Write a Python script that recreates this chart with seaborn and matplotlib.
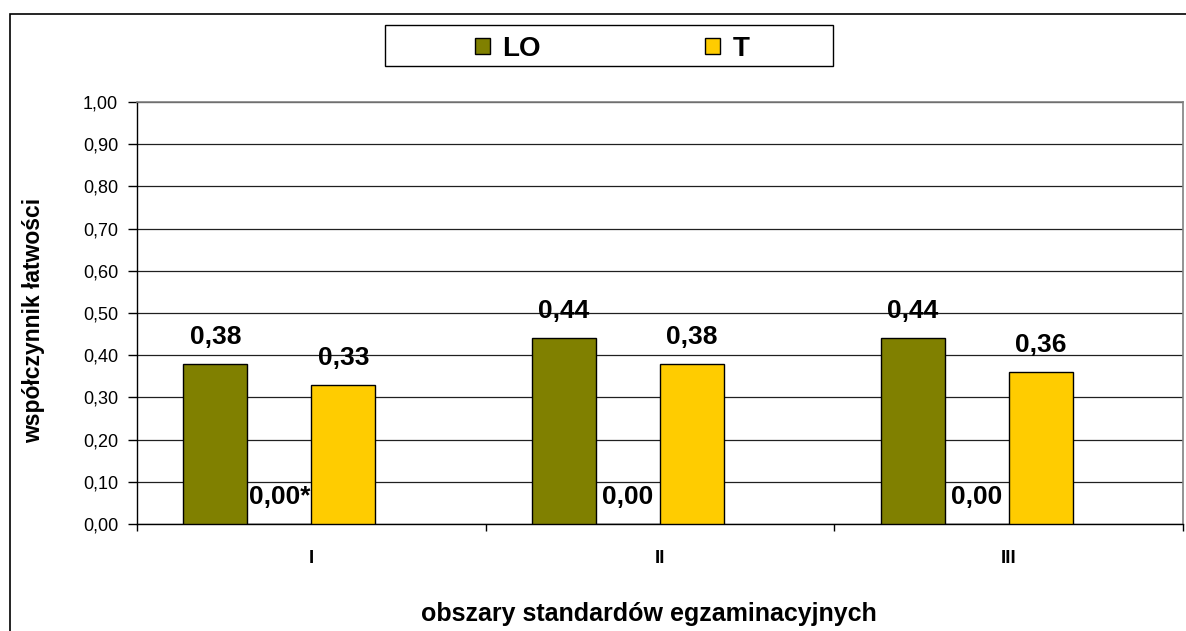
import matplotlib
matplotlib.use("Agg")
import matplotlib.pyplot as plt
from matplotlib.patches import Rectangle
import seaborn as sns
import pandas as pd
import numpy as np

# data
categories = ["I", "II", "III"]
series = ["LO", "zero", "T", "blank"]
lo_values = [0.38, 0.44, 0.44]
zero_values = [0.00, 0.00, 0.00]
t_values = [0.33, 0.38, 0.36]
blank_values = [np.nan, np.nan, np.nan]
zero_labels = ["0,00*", "0,00", "0,00"]
y_ticks = [0.0, 0.1, 0.2, 0.3, 0.4, 0.5, 0.6, 0.7, 0.8, 0.9, 1.0]

colors = {"LO": "#808000", "zero": "#808080", "T": "#FFCC00", "blank": "#FFFFFF"}

rows = []
for name, vals in zip(series, [lo_values, zero_values, t_values, blank_values]):
    for cat, v in zip(categories, vals):
        rows.append({"obszar": cat, "seria": name, "wartosc": v})
df = pd.DataFrame(rows)

sns.set_style("white")
plt.rcParams["font.family"] = ["Liberation Sans", "DejaVu Sans"]
plt.rcParams["text.color"] = "black"
plt.rcParams["xtick.color"] = "black"
plt.rcParams["ytick.color"] = "black"

fig = plt.figure(figsize=(11.86, 6.31), dpi=100)
ax = fig.add_axes([137 / 1186, 1 - 524 / 631, (1183 - 137) / 1186, 422 / 631])

sns.barplot(
    data=df, x="obszar", y="wartosc", hue="seria",
    order=categories, hue_order=series, palette=colors, saturation=1,
    width=0.734, gap=0, edgecolor="black", linewidth=1,
    errorbar=None, legend=True, ax=ax, zorder=3,
)

handles, labels = ax.get_legend_handles_labels()
ax.legend_.remove()

# value labels above bars
fmt = lambda v: f"{v:.2f}".replace(".", ",")
for container, name in zip(ax.containers, series):
    if name == "blank":
        continue
    for i, bar in enumerate(container):
        h = bar.get_height()
        if np.isnan(h):
            continue
        txt = zero_labels[i] if name == "zero" else fmt(h)
        ax.annotate(txt, (bar.get_x() + bar.get_width() / 2, h),
                    xytext=(0, 19.5), textcoords="offset points",
                    ha="center", va="center", fontsize=19, fontweight="bold",
                    color="black", zorder=5)

ax.set_ylim(0, 1)
ax.set_xlim(-0.5, 2.5)
ax.set_yticks(y_ticks)
ax.set_yticklabels([fmt(v) for v in y_ticks], fontsize=13)
ax.yaxis.grid(True, color="#202020", linewidth=0.9, zorder=0)
ax.set_axisbelow(True)
ax.tick_params(axis="y", direction="out", length=6.5, width=1, pad=7,
               left=True, color="black")
ax.set_xticks([0, 1, 2])
ax.set_xticklabels(categories, fontsize=13.5, fontweight="bold")
ax.set_xticks([-0.5, 0.5, 1.5, 2.5], minor=True)
ax.tick_params(axis="x", which="major", length=0, pad=19)
ax.tick_params(axis="x", which="minor", length=5, width=1, color="black",
               direction="out", bottom=True)
ax.set_xlabel("")
ax.set_ylabel("")
for side in ["left", "bottom"]:
    ax.spines[side].set_color("black")
    ax.spines[side].set_linewidth(1)
for side in ["top", "right"]:
    ax.spines[side].set_color("#808080")
    ax.spines[side].set_linewidth(1.2)

fig.text(34 / 1186, 1 - 320 / 631, "współczynnik łatwości", rotation=90,
         ha="center", va="center", fontsize=16.5, fontweight="bold")
fig.text(649 / 1186, 1 - 614 / 631, "obszary standardów egzaminacyjnych",
         ha="center", va="center", fontsize=18, fontweight="bold")

# legend with LO and T only
keep = [(h, l) for h, l in zip(handles, labels) if l in ("LO", "T")]
for h, _ in keep:
    h.set_edgecolor("black")
    h.set_linewidth(1)
fig.legend([h for h, _ in keep], [l for _, l in keep], ncol=2,
           loc="center", bbox_to_anchor=(612 / 1186, 1 - 49 / 631),
           frameon=False, prop={"weight": "bold", "size": 20},
           handlelength=0.54, handleheight=0.54, handletextpad=0.45,
           columnspacing=5.9)
fig.patches.append(Rectangle((385 / 1186, 1 - 66 / 631), 448 / 1186, 41 / 631,
                             transform=fig.transFigure, fill=False,
                             edgecolor="black", linewidth=1))

# outer chart frame, cut by the picture edge
fig.patches.append(Rectangle((10 / 1186, -0.05), 1.1, 1 - 14 / 631 + 0.05,
                             transform=fig.transFigure, fill=False,
                             edgecolor="black", linewidth=1.2, clip_on=False))

fig.savefig("out.png", dpi=100)
